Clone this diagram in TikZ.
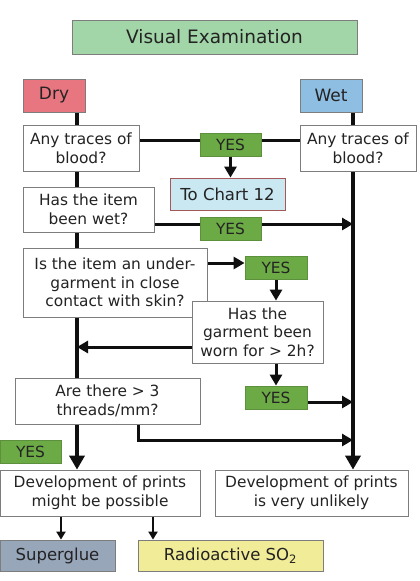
\documentclass[tikz,border=0pt]{standalone}
\usepackage{fontspec}
\setmainfont{DejaVu Sans}
\usetikzlibrary{arrows.meta}
\pgfdeclarelayer{back}
\pgfdeclarelayer{bg}
\pgfsetlayers{back,bg,main}
\definecolor{titlegreen}{RGB}{162,214,168}
\definecolor{dryred}{RGB}{232,118,128}
\definecolor{wetblue}{RGB}{142,190,226}
\definecolor{yesgreen}{RGB}{108,170,70}
\definecolor{chartblue}{RGB}{202,232,242}
\definecolor{gluegray}{RGB}{152,166,186}
\definecolor{radioyellow}{RGB}{240,236,152}
\definecolor{boxgray}{RGB}{125,125,125}
\definecolor{textc}{RGB}{35,35,35}
\definecolor{linec}{RGB}{15,15,15}
\begin{document}
\begin{tikzpicture}[x=1pt,y=-1pt,
  box/.style={draw=boxgray, line width=0.8pt, fill=white, inner sep=0pt, align=center,
    text=textc, font=\fontsize{15.4}{18.6}\selectfont},
  bigbox/.style={box, font=\fontsize{16.5}{20}\selectfont},
  yesbox/.style={box, fill=yesgreen, draw=yesgreen!85!black, minimum width=61pt, minimum height=23pt},
  vline/.style={draw=linec, line width=4pt},
  hline/.style={draw=linec, line width=3pt},
  sline/.style={draw=linec, line width=2.2pt},
  arr/.style={-{Triangle[length=11pt,width=12pt]}},
  bigarr/.style={-{Triangle[length=14pt,width=15pt]}},
  smallarr/.style={-{Triangle[length=8pt,width=9pt]}}
]
\useasboundingbox (0,0) rectangle (420,581);
\begin{pgfonlayer}{back}
\fill[white] (0,0) rectangle (420,581);
\end{pgfonlayer}

\coordinate (L) at (77,0);
\coordinate (R) at (353,0);
\coordinate (h1) at (0,140);
\coordinate (h2) at (0,224);
\coordinate (h3) at (0,263);
\coordinate (h4) at (0,347);
\coordinate (h5) at (0,402);
\coordinate (h6) at (0,440);
\coordinate (t1) at (138,0);
\coordinate (p1) at (61,0);
\coordinate (p2) at (153,0);

% nodes
\node[box, fill=titlegreen, minimum width=285pt, minimum height=34pt,
  font=\fontsize{18.5}{22}\selectfont] (title) at (214.5,37) {Visual Examination};
\node[box, fill=dryred, minimum width=62pt, minimum height=33pt,
  font=\fontsize{17}{20}\selectfont] (dry) at (54,95.5) {Dry};
\node[box, fill=wetblue, minimum width=62pt, minimum height=33pt,
  font=\fontsize{17}{20}\selectfont] (wet) at (331,95.5) {Wet};
\node[box, minimum width=116pt, minimum height=46pt] (blood1) at (81,148) {Any traces of\\blood?};
\node[box, minimum width=116pt, minimum height=46pt] (blood2) at (358,148) {Any traces of\\blood?};
\node[yesbox] (yes1) at (230.5,144.5) {YES};
\node[bigbox, fill=chartblue, draw=boxgray!70!red, minimum width=115pt, minimum height=32pt] (chart) at (227.5,194) {To Chart 12};
\node[box, minimum width=131pt, minimum height=45pt] (wetq) at (88.5,209.5) {Has the item\\been wet?};
\node[yesbox] (yes2) at (230.5,228.5) {YES};
\node[box, minimum width=184pt, minimum height=69pt] (under) at (115,282.5) {Is the item an under-\\garment in close\\contact with skin?};
\node[yesbox, minimum width=62pt] (yes3) at (276,267.5) {YES};
\node[box, minimum width=131pt, minimum height=62pt] (worn) at (257.5,332) {Has the\\garment been\\worn for > 2h?};
\node[yesbox, minimum width=62pt] (yes4) at (276,397.5) {YES};
\node[box, minimum width=185pt, minimum height=46pt] (threads) at (107.5,401) {Are there > 3\\threads/mm?};
\node[yesbox] (yes5) at (30.5,451.5) {YES};
\node[box, minimum width=200pt, minimum height=46pt] (possible) at (100,493) {Development of prints\\might be possible};
\node[box, minimum width=193pt, minimum height=46pt] (unlikely) at (311.5,493) {Development of prints\\is very unlikely};
\node[bigbox, fill=gluegray, minimum width=115pt, minimum height=31pt] (glue) at (57.5,555.5) {Superglue};
\node[bigbox, fill=radioyellow, minimum width=185pt, minimum height=31pt] (radio) at (230.5,555.5) {Radioactive SO\textsubscript{2}};

\begin{pgfonlayer}{bg}
  % left trunk
  \draw[vline] (dry.south -| L) -- (blood1.north -| L);
  \draw[vline] (blood1.south -| L) -- (wetq.north -| L);
  \draw[vline] (wetq.south -| L) -- (under.north -| L);
  \draw[vline] (under.south -| L) -- (threads.north -| L);
  \draw[vline, bigarr] (threads.south -| L) -- (possible.north -| L);
  % right trunk
  \draw[vline] (wet.south -| R) -- (blood2.north -| R);
  \draw[vline, bigarr] (blood2.south -| R) -- (unlikely.north -| R);
  % blood line
  \draw[hline] (h1 -| blood1.east) -- (h1 -| blood2.west);
  \draw[hline, arr] (yes1.south) -- (yes1.south |- chart.north);
  % been wet
  \draw[hline, arr] (h2 -| wetq.east) -- (h2 -| R);
  % undergarment
  \draw[hline, arr] (h3 -| under.east) -- (h3 -| yes3.west);
  \draw[hline, arr] (yes3.south) -- (yes3.south |- worn.north);
  % worn
  \draw[hline, arr] (h4 -| worn.west) -- (h4 -| L);
  \draw[hline, arr] (yes4.south |- worn.south) -- (yes4.north);
  \draw[hline, arr] (h5 -| yes4.east) -- (h5 -| R);
  % threads
  \draw[hline, arr] (threads.south -| t1) -- (h6 -| t1) -- (h6 -| R);
  % possible
  \draw[sline, smallarr] (possible.south -| p1) -- (glue.north -| p1);
  \draw[sline, smallarr] (possible.south -| p2) -- (radio.north -| p2);
\end{pgfonlayer}
\end{tikzpicture}
\end{document}
